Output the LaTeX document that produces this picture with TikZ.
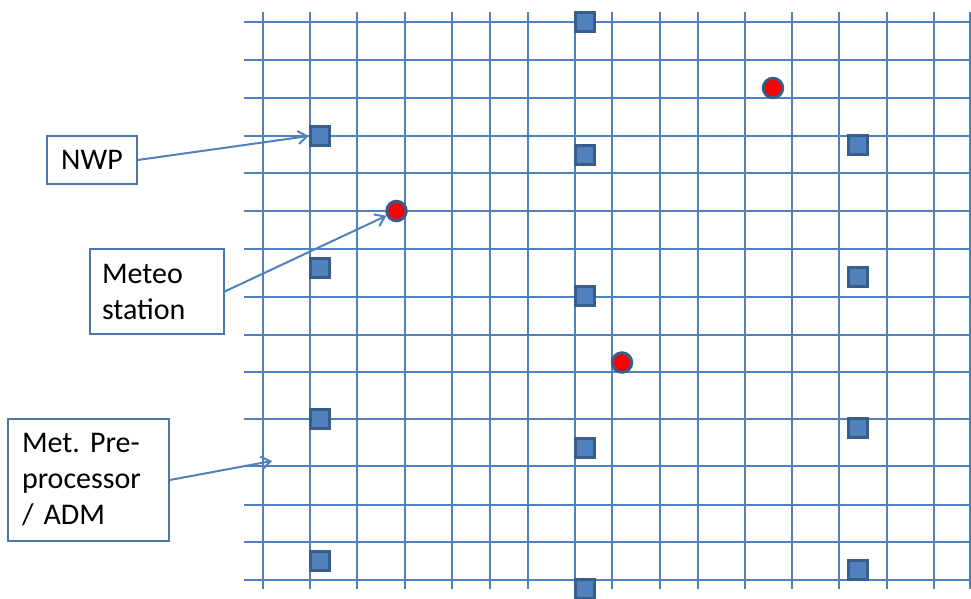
\documentclass[tikz,border=0pt]{standalone}
\usepackage{fontspec}
\setmainfont{Carlito}
\usetikzlibrary{arrows.meta}
\definecolor{gridblue}{HTML}{4F81BD}
\definecolor{darkblue}{HTML}{385D8A}
\definecolor{boxblue}{HTML}{4A76A8}
\tikzset{
  gridline/.style={draw=gridblue, line width=2pt},
  sq/.style={rectangle, draw=darkblue, fill=gridblue, line width=3pt, minimum size=19.5pt, inner sep=0pt},
  station/.style={circle, draw=darkblue, fill=red, line width=3pt, minimum size=19.5pt, inner sep=0pt},
  labelbox/.style={rectangle, draw=boxblue, line width=1.5pt, fill=white, inner sep=0pt,
    font=\fontsize{30}{36}\selectfont\frenchspacing},
  conn/.style={draw=gridblue, line width=2pt, -{Straight Barb[length=9pt,width=13pt,line width=2pt]}}
}
\begin{document}
\begin{tikzpicture}[x=1pt, y=-1pt]
\useasboundingbox (0,0) rectangle (971,599);
% grid
\foreach \yy in {22,60,98,136,173,211,249,297,335,372,419,466,505,542,580}
  \draw[gridline] (244,\yy) -- (971,\yy);
\foreach \xx in {263,310,357,405,452,490,528,575,612,660,698,745,792,839,887,934,970}
  \draw[gridline] (\xx,12.5) -- (\xx,589);
% squares
\node[sq] (sq1) at (320,136) {};
\node[sq] (sq2) at (585,22) {};
\node[sq] (sq3) at (585,155) {};
\node[sq] (sq4) at (858,145) {};
\node[sq] (sq5) at (320,268) {};
\node[sq] (sq6) at (585,296) {};
\node[sq] (sq7) at (858,277) {};
\node[sq] (sq8) at (320,419) {};
\node[sq] (sq9) at (585,448) {};
\node[sq] (sq10) at (858,428) {};
\node[sq] (sq11) at (320,561) {};
\node[sq] (sq12) at (585,589) {};
\node[sq] (sq13) at (858,570) {};
% stations
\node[station] (c1) at (396.5,211) {};
\node[station] (c2) at (773,88) {};
\node[station] (c3) at (622,362.5) {};
% labels
\node[labelbox, minimum width=90pt, minimum height=48pt] (nwp) at (92,160) {NWP};
\node[labelbox, minimum width=134pt, minimum height=85pt, text width=110pt, align=left] (meteo) at (157,291.5) {Meteo\\station};
\node[labelbox, minimum width=161pt, minimum height=122pt, text width=133pt, align=left] (met) at (88.5,480) {Met. Pre-\\processor\\/ ADM};
\coordinate (admpt) at (272,461);
% connectors
\draw[conn] (nwp.east) -- (sq1.west);
\draw[conn] (meteo.east) -- (c1);
\draw[conn] (met.east) -- (admpt);
\end{tikzpicture}
\end{document}
